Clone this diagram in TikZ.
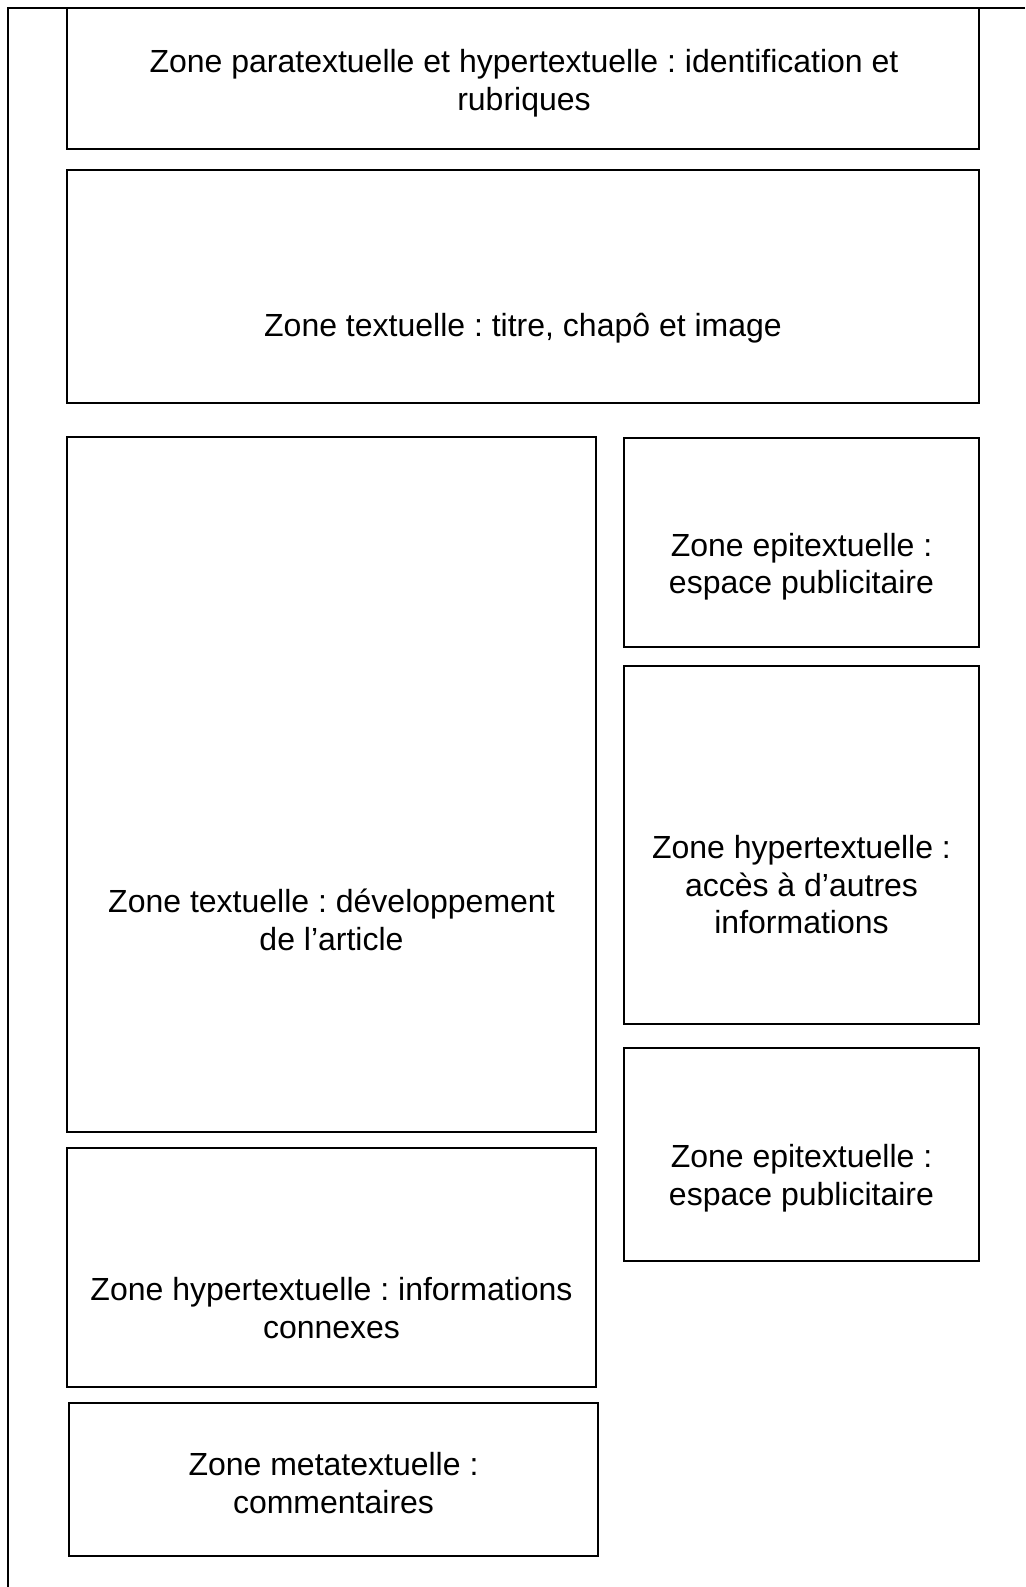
\documentclass[tikz,border=0pt]{standalone}
\usepackage{fontspec}
\setmainfont{Liberation Sans}

\begin{document}
\begin{tikzpicture}[x=1pt, y=-1pt,
        zone/.style={draw, line width=1.5pt, inner sep=0pt},
        zonetext/.style={align=center, font=\fontsize{32}{37.5}\selectfont\frenchspacing}
    ]
    \useasboundingbox (0,0) rectangle (1025,1587);

    % cadre de la page
    \coordinate (pagetr) at (1025,8);
    \coordinate (pagetl) at (8,8);
    \coordinate (pagebl) at (8,1587);
    \draw[line width=1.5pt] (pagetr) -- (pagetl) -- (pagebl);

    % zones
    \node[zone, minimum width=912pt, minimum height=141pt] (para) at (523,78.5) {};
    \node[zone, minimum width=912pt, minimum height=233pt] (titre) at (523,286.5) {};
    \node[zone, minimum width=529pt, minimum height=695pt] (devel) at (331.5,784.5) {};
    \node[zone, minimum width=355pt, minimum height=209pt] (epiA) at (801.5,542.5) {};
    \node[zone, minimum width=355pt, minimum height=358pt] (hyperA) at (801.5,845) {};
    \node[zone, minimum width=355pt, minimum height=213pt] (epiB) at (801.5,1154.5) {};
    \node[zone, minimum width=529pt, minimum height=239pt] (hyperB) at (331.5,1267.5) {};
    \node[zone, minimum width=529pt, minimum height=153pt] (meta) at (333.5,1479.5) {};

    % textes
    \node[zonetext] (paratxt) at (524,83) {Zone paratextuelle et hypertextuelle : identification et\\ rubriques};
    \node[zonetext] (titretxt) at (523,328) {Zone textuelle : titre, chapô et image};
    \node[zonetext] (develtxt) at (331.5,920) {Zone textuelle : développement\\ de l’article};
    \node[zonetext] (epiAtxt) at (801.5,566.5) {Zone epitextuelle :\\ espace publicitaire};
    \node[zonetext] (hyperAtxt) at (801.5,885) {Zone hypertextuelle :\\ accès à d’autres\\ informations};
    \node[zonetext] (epiBtxt) at (801.5,1178) {Zone epitextuelle :\\ espace publicitaire};
    \node[zonetext] (hyperBtxt) at (331.5,1308) {Zone hypertextuelle : informations\\ connexes};
    \node[zonetext] (metatxt) at (333.5,1483) {Zone metatextuelle :\\ commentaires};
\end{tikzpicture}
\end{document}
